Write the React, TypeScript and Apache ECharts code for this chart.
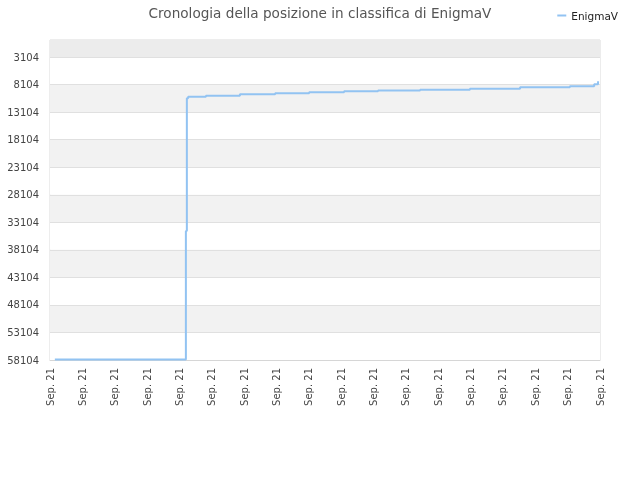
import React, { useRef, useEffect } from "react";
import * as echarts from "echarts";

const seriesName = "EnigmaV";
const titleText = "Cronologia della posizione in classifica di EnigmaV";

// x in time units along the axis (0..170), y = rank in classifica
const timeValues = [1.5, 42.0, 42.3, 42.7, 48.2, 58.7, 69.6, 80.1, 90.9, 101.4, 114.4, 129.8, 145.3, 160.7, 168.2, 169.4];
const rankValues = [58000, 34700, 10590, 10300, 10110, 9860, 9680, 9500, 9320, 9160, 9020, 8840, 8590, 8410, 8040, 7500];

const rankTicks = [3104, 8104, 13104, 18104, 23104, 28104, 33104, 38104, 43104, 48104, 53104, 58104];
const rankMin = 1;
const rankMax = 58104;
const timeMax = 170;
const timeStep = 10;
const timeLabel = "Sep. 21";

const FONT = "DejaVu Sans";

export default function App() {
  const chartRef = useRef<HTMLDivElement>(null);

  useEffect(() => {
    if (!chartRef.current) return;
    const chart = echarts.init(chartRef.current, null, { renderer: "svg" });

    const option = {
      animation: false,
      title: {
        text: titleText,
        left: "center",
        top: 1,
        textStyle: { fontFamily: FONT, fontSize: 13.6, fontWeight: "normal", color: "#555555" },
      },
      legend: {
        right: 17,
        top: 5,
        icon: "rect",
        itemWidth: 9,
        itemHeight: 2,
        itemGap: 10,
        textStyle: { fontFamily: FONT, fontSize: 10.5, color: "#222222" },
        data: [seriesName],
      },
      grid: {
        left: 50,
        right: 40,
        top: 40,
        bottom: 120,
        show: true,
        borderColor: "#dadada",
        borderWidth: 1,
        backgroundColor: "transparent",
      },
      xAxis: {
        type: "value",
        min: 0,
        max: timeMax,
        interval: timeStep,
        axisLine: { show: true, lineStyle: { color: "#d6d6d6" } },
        axisTick: { show: false },
        splitLine: { show: false },
        axisLabel: {
          rotate: 90,
          margin: 8,
          fontFamily: FONT,
          fontSize: 10,
          color: "#444444",
          formatter: () => timeLabel,
        },
      },
      yAxis: {
        type: "value",
        inverse: true,
        min: rankMin,
        max: rankMax,
        axisLine: { show: false },
        axisTick: { show: false, customValues: rankTicks },
        axisLabel: {
          customValues: rankTicks,
          margin: 11,
          fontFamily: FONT,
          fontSize: 10,
          color: "#444444",
          formatter: (v: number) => String(v),
        },
        splitLine: { show: true, lineStyle: { color: "#e0e0e0", width: 1 } },
        splitArea: { show: true, areaStyle: { color: ["#ffffff", "#f2f2f2"] } },
      },
      series: [
        {
          name: seriesName,
          type: "line",
          step: "end",
          showSymbol: false,
          symbol: "none",
          lineStyle: { color: "#92c3f2", width: 2 },
          itemStyle: { color: "#92c3f2" },
          data: timeValues.map((t, i) => [t, rankValues[i]]),
          markArea: {
            silent: true,
            itemStyle: { color: "#ececec" },
            data: [[{ yAxis: rankMin }, { yAxis: rankTicks[0] }]],
          },
        },
      ],
    };

    chart.setOption(option);
    return () => chart.dispose();
  }, []);

  return (
    <div
      ref={chartRef}
      style={{ position: "fixed", left: 0, top: 0, width: 640, height: 480 }}
    />
  );
}
